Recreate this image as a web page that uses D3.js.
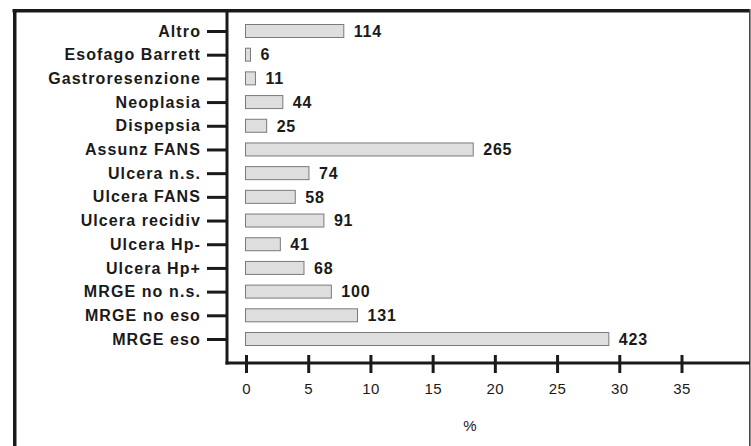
<!DOCTYPE html>
<html>
<head>
<meta charset="utf-8">
<script src="https://cdn.jsdelivr.net/npm/d3@7"></script>
<style>
  body { margin: 0; background: #fff; }
  svg { display: block; font-family: "Liberation Sans", Arial, sans-serif; }
</style>
</head>
<body>
<div id="chart"></div>
<script>
const categories = ["Altro","Esofago Barrett","Gastroresenzione","Neoplasia","Dispepsia","Assunz FANS","Ulcera n.s.","Ulcera FANS","Ulcera recidiv","Ulcera Hp-","Ulcera Hp+","MRGE no n.s.","MRGE no eso","MRGE eso"];
const counts = [114,6,11,44,25,265,74,58,91,41,68,100,131,423];
// bar length in %
const percents = [7.9,0.4,0.8,3.0,1.7,18.3,5.1,4.0,6.3,2.8,4.7,6.9,9.0,29.2];
const xTicks = [0,5,10,15,20,25,30,35];
const xTitle = "%";

const W = 751, H = 446;
const axisX = 227, axisY = 363;
const ink = "#1a1a1a";

const svg = d3.select("#chart").append("svg")
  .attr("width", W)
  .attr("height", H);

// frame, open at the bottom
svg.append("line").attr("x1", 12.5).attr("x2", 750).attr("y1", 10.75).attr("y2", 10.75)
  .attr("stroke", ink).attr("stroke-width", 3.5);
svg.append("line").attr("x1", 14.75).attr("x2", 14.75).attr("y1", 9).attr("y2", H)
  .attr("stroke", ink).attr("stroke-width", 3.5);
svg.append("line").attr("x1", 749.8).attr("x2", 749.8).attr("y1", 9).attr("y2", H)
  .attr("stroke", "#444").attr("stroke-width", 1.6);

var x = d3.scaleLinear().domain([0, 35]).range([246, 681.5]);
var y = d3.scalePoint().domain(categories).range([31, 339]);

// bars
svg.selectAll("rect.bar")
  .data(categories)
  .enter()
  .append("rect")
    .attr("class", "bar")
    .attr("x", x(0) - 0.5)
    .attr("y", function(d) { return y(d) - 6.5; })
    .attr("width", function(d, i) { return x(percents[i]) - x(0); })
    .attr("height", 13)
    .attr("fill", "#dedede")
    .attr("stroke", "#7a7a7a")
    .attr("stroke-width", 1);

// count labels
svg.selectAll("text.val")
  .data(categories)
  .enter()
  .append("text")
    .attr("class", "val")
    .attr("x", function(d, i) { return x(percents[i]) + 9.5; })
    .attr("y", function(d) { return y(d); })
    .attr("dy", "0.36em")
    .attr("font-size", "16px")
    .attr("font-weight", "bold")
    .attr("letter-spacing", "0.8px")
    .attr("fill", ink)
    .text(function(d, i) { return counts[i]; });

// y axis
var gy = svg.append("g")
  .attr("transform", "translate(" + axisX + ",0)")
  .call(d3.axisLeft(y).tickSize(20).tickPadding(6));
gy.select(".domain").remove();
gy.selectAll(".tick line").attr("stroke", ink).attr("stroke-width", 3);
gy.selectAll(".tick text")
  .attr("font-family", "'Liberation Sans', Arial, sans-serif")
  .attr("font-size", "16px")
  .attr("font-weight", "bold")
  .attr("letter-spacing", "1.1px")
  .attr("fill", ink);
svg.append("line").attr("x1", axisX).attr("x2", axisX).attr("y1", 10).attr("y2", axisY + 1.5)
  .attr("stroke", ink).attr("stroke-width", 3);

// x axis
var gx = svg.append("g")
  .attr("transform", "translate(0," + axisY + ")")
  .call(d3.axisBottom(x).tickValues(xTicks).tickSize(18).tickPadding(2));
gx.select(".domain").remove();
gx.selectAll(".tick line").attr("y1", -8).attr("y2", 10).attr("stroke", ink).attr("stroke-width", 3);
gx.selectAll(".tick text")
  .attr("font-family", "'Liberation Sans', Arial, sans-serif")
  .attr("font-size", "15px")
  .attr("letter-spacing", "0.4px")
  .attr("fill", ink);
svg.append("line").attr("x1", axisX - 1.5).attr("x2", 750).attr("y1", axisY).attr("y2", axisY)
  .attr("stroke", ink).attr("stroke-width", 3);

svg.append("text")
  .attr("x", 470)
  .attr("y", 431)
  .attr("text-anchor", "middle")
  .attr("font-size", "15px")
  .attr("fill", ink)
  .text(xTitle);
</script>
</body>
</html>
